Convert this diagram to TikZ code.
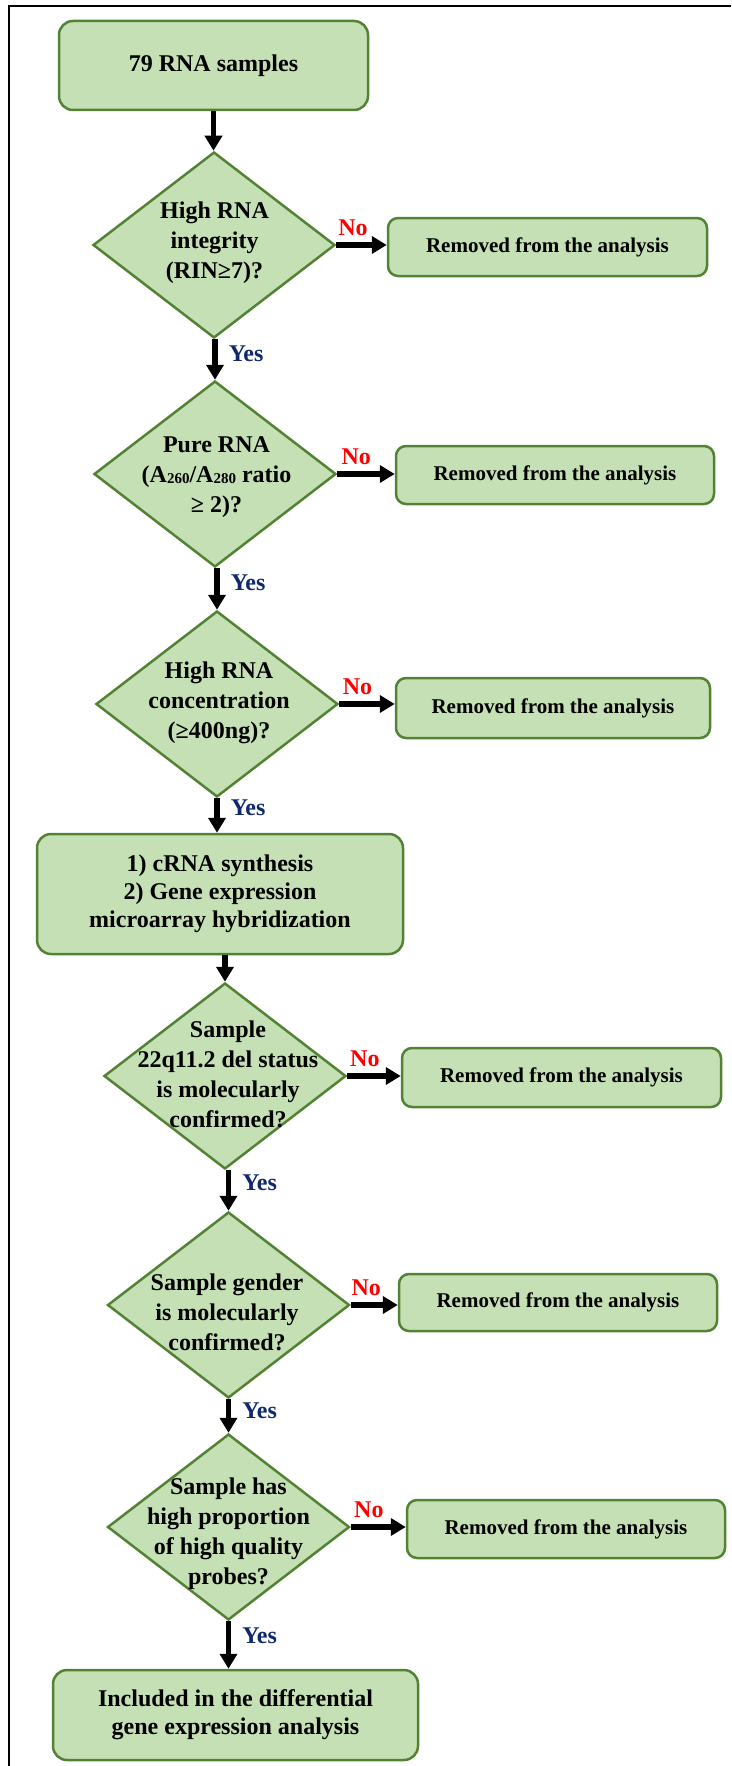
\documentclass[tikz,border=0pt]{standalone}
\usepackage{fontspec}
\setmainfont{Liberation Serif}
\usetikzlibrary{shapes.geometric,arrows.meta}
\definecolor{boxfill}{RGB}{197,224,180}
\definecolor{boxline}{RGB}{84,130,53}
\definecolor{yesblue}{RGB}{16,40,110}
\definecolor{nored}{RGB}{255,0,0}
\newcommand{\subsc}[1]{\raisebox{-1.5pt}{\fontsize{15}{15}\selectfont #1}}
\begin{document}
\begin{tikzpicture}[x=1pt,y=-1pt,
  bigbox/.style={draw=boxline, fill=boxfill, line width=2.5pt, rounded corners=14pt, inner sep=0pt, align=center, font=\bfseries\fontsize{24}{28}\selectfont},
  smallbox/.style={draw=boxline, fill=boxfill, line width=2.5pt, rounded corners=10pt, inner sep=0pt, font=\bfseries\fontsize{21}{25}\selectfont},
  decision/.style={diamond, draw=boxline, fill=boxfill, line width=2.5pt, inner sep=0pt, minimum width=242pt, minimum height=186pt},
  dtext/.style={align=center, font=\bfseries\fontsize{24}{30}\selectfont, inner sep=0pt},
  arr/.style={line width=5.5pt, -{Triangle[length=15pt,width=17pt]}},
  nolab/.style={text=nored, font=\bfseries\fontsize{24}{28}\selectfont, inner sep=0pt},
  yeslab/.style={text=yesblue, font=\bfseries\fontsize{24}{28}\selectfont, inner sep=0pt}
]
\useasboundingbox (0,0) rectangle (731,1766);
\draw[line width=2.5pt] (9,1766) -- (9,6) -- (731,6);

% main column
\node[bigbox, minimum width=309pt, minimum height=89pt] (start) at (213.5,65.5) {79 RNA samples};
\node[decision] (d1) at (214,245) {};
\node[dtext] (t1) at (214.5,243) {High RNA\\integrity\\(RIN≥7)?};
\node[decision] (d2) at (215,474) {};
\node[dtext] (t2) at (216.5,477) {Pure RNA\\(A\subsc{260}/A\subsc{280} ratio\\≥ 2)?};
\node[decision] (d3) at (217,704) {};
\node[dtext] (t3) at (219,703) {High RNA\\concentration\\(≥400ng)?};
\node[bigbox, minimum width=366pt, minimum height=120pt] (proc) at (220,894) {1) cRNA synthesis\\2) Gene expression\\microarray hybridization};
\node[decision] (d4) at (225,1076) {};
\node[dtext] (t4) at (228,1074) {Sample\\22q11.2 del status\\is molecularly\\confirmed?};
\node[decision] (d5) at (228.5,1305) {};
\node[dtext] (t5) at (227,1312) {Sample gender\\is molecularly\\confirmed?};
\node[decision] (d6) at (228.5,1527) {};
\node[dtext] (t6) at (228.5,1534) {Sample has\\high proportion\\of high quality\\probes?};
\node[bigbox, minimum width=365pt, minimum height=90pt] (final) at (235.5,1715) {Included in the differential\\gene expression analysis};

% removed boxes
\node[smallbox, minimum width=319pt, minimum height=58pt] (r1) at (547.5,247) {Removed from the analysis};
\node[smallbox, minimum width=318pt, minimum height=58pt] (r2) at (555,475) {Removed from the analysis};
\node[smallbox, minimum width=314pt, minimum height=60pt] (r3) at (553,708) {Removed from the analysis};
\node[smallbox, minimum width=319pt, minimum height=59pt] (r4) at (561.5,1077.5) {Removed from the analysis};
\node[smallbox, minimum width=318pt, minimum height=57pt] (r5) at (558,1302.5) {Removed from the analysis};
\node[smallbox, minimum width=318pt, minimum height=58pt] (r6) at (566,1529) {Removed from the analysis};

% vertical connectors
\draw[arr] (start.south) -- (start.south |- d1.north);
\draw[arr] (d2.north |- d1.south) -- node[yeslab, pos=0.36, right=11pt]{Yes} (d2.north);
\draw[arr] (d3.north |- d2.south) -- node[yeslab, pos=0.35, right=11pt]{Yes} (d3.north);
\draw[arr] (d3.south) -- node[yeslab, pos=0.28, right=11pt]{Yes} (d3.south |- proc.north);
\draw[arr] (proc.south -| d4.north) -- (d4.north);
\draw[arr] (d5.north |- d4.south) -- node[yeslab, pos=0.3, right=11pt]{Yes} (d5.north);
\draw[arr] (d5.south) -- node[yeslab, pos=0.35, right=11pt]{Yes} (d6.north);
\draw[arr] (d6.south) -- node[yeslab, pos=0.31, right=11pt]{Yes} (d6.south |- final.north);

% horizontal connectors
\draw[arr] (d1.east) -- node[nolab, pos=0.33, above=7pt]{No} (d1.east -| r1.west);
\draw[arr] (d2.east) -- node[nolab, pos=0.33, above=7pt]{No} (d2.east -| r2.west);
\draw[arr] (d3.east) -- node[nolab, pos=0.33, above=7pt]{No} (d3.east -| r3.west);
\draw[arr] (d4.east) -- node[nolab, pos=0.33, above=7pt]{No} (d4.east -| r4.west);
\draw[arr] (d5.east) -- node[nolab, pos=0.33, above=7pt]{No} (d5.east -| r5.west);
\draw[arr] (d6.east) -- node[nolab, pos=0.33, above=7pt]{No} (d6.east -| r6.west);
\end{tikzpicture}
\end{document}
